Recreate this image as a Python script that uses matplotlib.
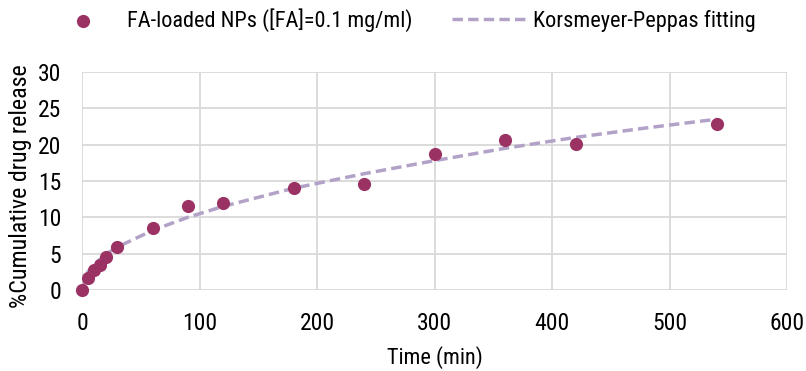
import numpy as np
import matplotlib.pyplot as plt

plt.rcParams['font.family'] = ['Roboto Condensed', 'Archivo Narrow', 'Liberation Sans', 'DejaVu Sans']

# measured release data
time_min = [0, 5, 10, 15, 20, 30, 60, 90, 120, 180, 240, 300, 360, 420, 540]
release = [0.0, 1.65, 2.7, 3.5, 4.6, 5.9, 8.6, 11.5, 12.0, 14.0, 14.55, 18.75, 20.7, 20.1, 22.85]

# Korsmeyer-Peppas fit
fit_time = [0, 5, 10, 20, 30, 60, 90, 120, 180, 240, 300, 360, 420, 480, 540]
fit_release = [0.0, 2.5, 3.5, 4.9, 5.9, 8.2, 10.0, 11.5, 14.0, 16.0, 17.8, 19.5, 21.0, 22.3, 23.5]

fig = plt.figure(figsize=(8.06, 3.71), dpi=100)
ax = fig.add_axes([82/806, 1-290/371, 705/806, 218/371])

ax.plot(fit_time, fit_release, linestyle=(0, (3, 1.5)), color='#B3A2C7', lw=2.5,
        label='Korsmeyer-Peppas fitting', zorder=2)
ax.scatter(time_min, release, s=90, color='#9B3264', zorder=3, linewidths=0,
           label='FA-loaded NPs ([FA]=0.1 mg/ml)', clip_on=False)

ax.set_xlim(0, 600)
ax.set_ylim(0, 30)
ax.set_xticks(range(0, 601, 100))
ax.set_yticks(range(0, 31, 5))
ax.grid(True, color='#D9D9D9', lw=1.3)
ax.set_axisbelow(True)
for s in ax.spines.values():
    s.set_visible(False)
ax.tick_params(length=0, labelsize=17, colors='#000000')
ax.tick_params(axis='x', pad=16)
ax.tick_params(axis='y', pad=15)
ax.set_xlabel('Time (min)', fontsize=16, labelpad=8)
ax.set_ylabel('%Cumulative drug release', fontsize=17.3, labelpad=4)
ax.yaxis.label.set_y(0.475)

h, l = ax.get_legend_handles_labels()
fig.legend(h[::-1], l[::-1], loc='center', bbox_to_anchor=(401/806, 1-20/371), ncol=2,
           frameon=False, fontsize=16, columnspacing=1.75, handlelength=3.3,
           handletextpad=0.35)

fig.savefig('out.png', dpi=100)
